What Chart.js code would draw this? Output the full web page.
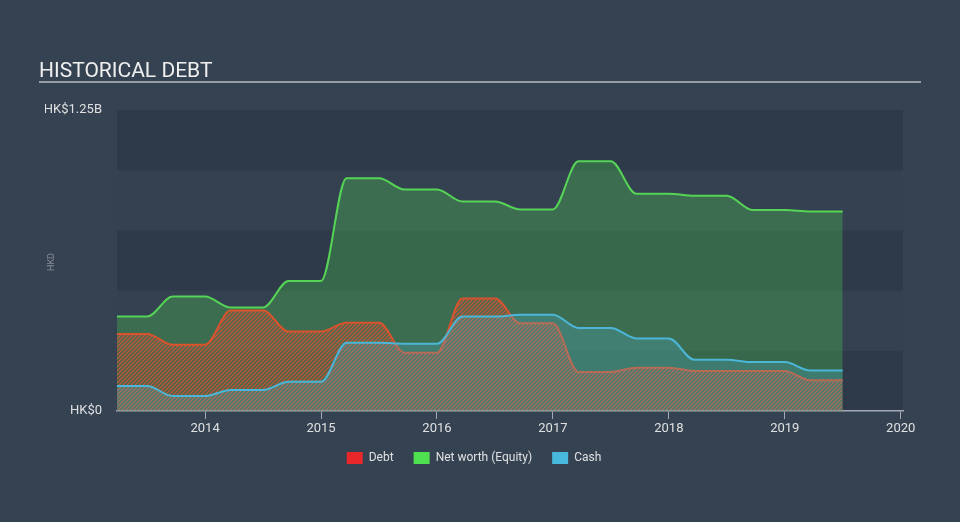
<!DOCTYPE html>
<html>
<head>
<meta charset="utf-8">
<script src="https://cdn.jsdelivr.net/npm/chart.js@4.4.0/dist/chart.umd.min.js"></script>
<style>
  html, body { margin: 0; padding: 0; background: #354251; }
  #wrap { width: 960px; height: 522px; }
</style>
</head>
<body>
<div id="wrap"><canvas id="myChart" width="960" height="522"></canvas></div>
<script>
// data (HK$ millions), dates as decimal years
const dates = [2013.24, 2013.5, 2013.72, 2014.0, 2014.22, 2014.5, 2014.72, 2015.0, 2015.22, 2015.5,
  2015.72, 2016.0, 2016.22, 2016.5, 2016.72, 2017.0, 2017.22, 2017.5, 2017.72, 2018.0,
  2018.22, 2018.5, 2018.72, 2019.0, 2019.22, 2019.5];
const netWorth = [392, 392, 475, 475, 430, 430, 540, 540, 967, 967,
  920, 920, 870, 870, 837, 837, 1037, 1037, 902, 902,
  894, 894, 835, 835, 829, 829];
const debt = [320, 320, 275, 275, 417, 417, 330, 330, 367, 367,
  242, 242, 467, 467, 364, 364, 162, 162, 180, 180,
  166, 166, 166, 166, 128, 128];
const cash = [104, 104, 62, 62, 87, 87, 121, 121, 283, 283,
  279, 279, 392, 392, 400, 400, 345, 345, 301, 301,
  213, 213, 203, 203, 168, 168];
const xTicks = [2014, 2015, 2016, 2017, 2018, 2019, 2020];
const yTicks = [0, 250, 500, 750, 1000, 1250];
const yLabels = { 0: "HK$0", 1250: "HK$1.25B" };

function hatch(color) {
  const c = document.createElement("canvas");
  c.width = 4;
  c.height = 4;
  const g = c.getContext("2d");
  g.fillStyle = "rgba(200,70,50,0.08)";
  g.fillRect(0, 0, 4, 4);
  g.strokeStyle = color;
  g.lineWidth = 1.4;
  g.beginPath();
  g.moveTo(0, 4); g.lineTo(4, 0);
  g.moveTo(-1, 1); g.lineTo(1, -1);
  g.moveTo(3, 5); g.lineTo(5, 3);
  g.stroke();
  return g.createPattern(c, "repeat");
}

function series(values) {
  return dates.map((d, i) => ({ x: d, y: values[i] }));
}

// background bands, title, axis title
const decor = {
  id: "decor",
  beforeDraw(chart) {
    const { ctx, chartArea: a, scales: { y } } = chart;
    ctx.save();
    for (let i = 0; i < yTicks.length - 1; i++) {
      const y0 = y.getPixelForValue(yTicks[i]);
      const y1 = y.getPixelForValue(yTicks[i + 1]);
      ctx.fillStyle = i % 2 === 0 ? "#2e3a4a" : "#344151";
      ctx.fillRect(a.left, y1, a.right - a.left, y0 - y1);
    }
    ctx.fillStyle = "#f0f0f0";
    ctx.font = "21px Roboto";
    ctx.textBaseline = "alphabetic";
    ctx.fillText("HISTORICAL DEBT", 39, 77);
    ctx.strokeStyle = "#b9bdc3";
    ctx.lineWidth = 1.5;
    ctx.beginPath();
    ctx.moveTo(39, 82);
    ctx.lineTo(921, 82);
    ctx.stroke();
    ctx.translate(51, 262);
    ctx.rotate(-Math.PI / 2);
    ctx.font = "9px Roboto";
    ctx.fillStyle = "rgba(220,220,220,0.5)";
    ctx.textAlign = "center";
    ctx.fillText("HKD", 0, 3);
    ctx.restore();
  },
};

const common = {
  borderWidth: 2,
  pointRadius: 0,
  fill: "origin",
  cubicInterpolationMode: "monotone",
};

const data = {
  datasets: [
    { ...common, label: "Debt", data: series(debt), borderColor: "#d9532d",
      backgroundColor: hatch("rgba(228,84,52,0.75)"), legendColor: "#e8272b", order: 2 },
    { ...common, label: "Net worth (Equity)", data: series(netWorth), borderColor: "#55d455",
      backgroundColor: "rgba(80,200,80,0.33)", legendColor: "#4fe04f", order: 3 },
    { ...common, label: "Cash", data: series(cash), borderColor: "#4bb6d8",
      backgroundColor: "rgba(74,184,216,0.25)", legendColor: "#48b9dd", order: 1 },
  ],
};

const config = {
  type: "line",
  data,
  plugins: [decor],
  options: {
    responsive: false,
    animation: false,
    layout: { padding: { left: 45, top: 110, right: 57, bottom: 48 } },
    plugins: {
      tooltip: { enabled: false },
      legend: {
        position: "bottom",
        labels: {
          color: "#e0e0e0",
          font: { family: "Roboto", size: 12 },
          boxWidth: 16,
          boxHeight: 12,
          padding: 20,
          sort: (a, b) => a.datasetIndex - b.datasetIndex,
          generateLabels: (chart) =>
            chart.data.datasets.map((ds, i) => ({
              text: ds.label,
              fillStyle: ds.legendColor,
              strokeStyle: ds.legendColor,
              lineWidth: 0,
              fontColor: "#e0e0e0",
              datasetIndex: i,
            })),
        },
      },
    },
    scales: {
      x: {
        type: "linear",
        min: 2013.24,
        max: 2020.02,
        afterBuildTicks: (s) => { s.ticks = xTicks.map((v) => ({ value: v })); },
        afterFit: (s) => { s.height = 21; },
        grid: { drawOnChartArea: false, color: "#a3aab5", tickLength: 8 },
        border: { color: "#a3aab5", width: 1.5 },
        ticks: {
          color: "#e0e0e0",
          font: { family: "Roboto", size: 13 },
          padding: 2,
          maxRotation: 0,
          callback: (v) => String(v),
        },
      },
      y: {
        min: 0,
        max: 1250,
        afterBuildTicks: (s) => { s.ticks = yTicks.map((v) => ({ value: v })); },
        afterFit: (s) => { s.width = 72; },
        grid: { display: false },
        border: { display: false },
        ticks: {
          color: "#e0e0e0",
          font: { family: "Roboto", size: 13 },
          padding: 7,
          callback: (v) => yLabels[v] || "",
        },
      },
    },
  },
};

const myChart = new Chart(document.getElementById("myChart"), config);
</script>
</body>
</html>
